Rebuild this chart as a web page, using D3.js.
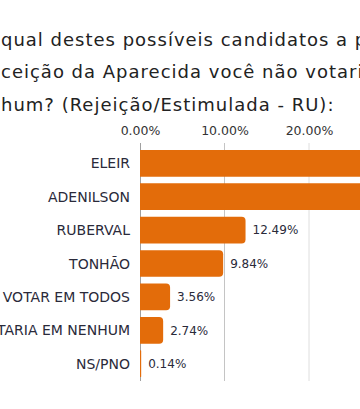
<!DOCTYPE html>
<html><head><meta charset="utf-8">
<script src="https://cdn.jsdelivr.net/npm/d3@7/dist/d3.min.js"></script>
<style>body{margin:0;background:#fff;overflow:hidden}svg{display:block}</style>
</head><body>
<svg id="c" width="360" height="409"></svg>
<script>
const categories = ["ELEIR","ADENILSON","RUBERVAL","TONHÃO","PODERIA VOTAR EM TODOS","NÃO VOTARIA EM NENHUM","NS/PNO"];
const values = [37.86, 33.37, 12.49, 9.84, 3.56, 2.74, 0.14];
const tickValues = [0, 10, 20, 30, 40];
const titleLines = ["Em qual destes possíveis candidatos a prefeito de Con", "Conceição da Aparecida você não votaria de jeito", "nenhum? (Rejeição/Estimulada - RU):"];
const titleHidden = ["Em ", "Con", "nen"];

const FONT = "'DejaVu Sans', sans-serif";
const svg = d3.select("#c");
const x = d3.scaleLinear().domain([0, 10]).range([140, 224.5]);
const y = d3.scaleBand().domain(categories).range([143.3, 383.7]).padding(0.2);

// title
titleLines.forEach((t, i) => {
  const tx = svg.append("text").attr("y", 45.5 + i * 32.5).attr("fill", "#222")
    .style("font-family", FONT).style("font-size", "18px").style("letter-spacing", "1px").text(t);
  const w = tx.node().getSubStringLength(0, titleHidden[i].length);
  tx.attr("x", 1 - w);
});

// gridlines
const gridColors = {10: "#c4c4c4", 20: "#dedede", 30: "#dedede", 40: "#dedede"};
svg.append("g").selectAll("line").data(tickValues.filter(d => d > 0)).join("line")
  .attr("x1", d => x(d)).attr("x2", d => x(d)).attr("y1", 143).attr("y2", 381)
  .attr("stroke", d => gridColors[d]).attr("stroke-width", 1);

// top axis labels
const xAxis = d3.axisTop(x).tickValues(tickValues).tickSize(0).tickFormat(d => d3.format(".2f")(d) + "%");
const gx = svg.append("g").attr("transform", "translate(0,138)").call(xAxis);
gx.select(".domain").remove();
gx.selectAll("text").attr("fill", "#333").attr("dy", 0).style("font-family", FONT).style("font-size", "12.5px");

// zero axis
svg.append("line").attr("x1", x(0) + 0.5).attr("x2", x(0) + 0.5).attr("y1", 143).attr("y2", 381)
  .attr("stroke", "#a0a0a0");

// bars with rounded right end
const r = 4;
svg.append("g").selectAll("path").data(values).join("path")
  .attr("fill", "#E36C0A")
  .attr("d", (d, i) => {
    const x0 = x(0), x1 = x(d), y0 = y(categories[i]), h = y.bandwidth();
    const rr = Math.min(r, (x1 - x0) / 2);
    return `M${x0},${y0}H${x1 - rr}Q${x1},${y0} ${x1},${y0 + rr}V${y0 + h - rr}Q${x1},${y0 + h} ${x1 - rr},${y0 + h}H${x0}Z`;
  });

// category labels
svg.append("g").selectAll("text").data(categories).join("text")
  .attr("x", 130).attr("y", d => y(d) + y.bandwidth() / 2).attr("dy", "0.36em")
  .attr("text-anchor", "end").attr("fill", "#2a2a3a")
  .style("font-family", FONT).style("font-size", "14px").text(d => d);

// value labels
svg.append("g").selectAll("text").data(values).join("text")
  .attr("x", d => x(d) + 7).attr("y", (d, i) => y(categories[i]) + y.bandwidth() / 2).attr("dy", "0.36em")
  .attr("fill", "#2a2a3a")
  .style("font-family", FONT).style("font-size", "12px").text(d => d3.format(".2f")(d) + "%");
</script>
</body></html>
